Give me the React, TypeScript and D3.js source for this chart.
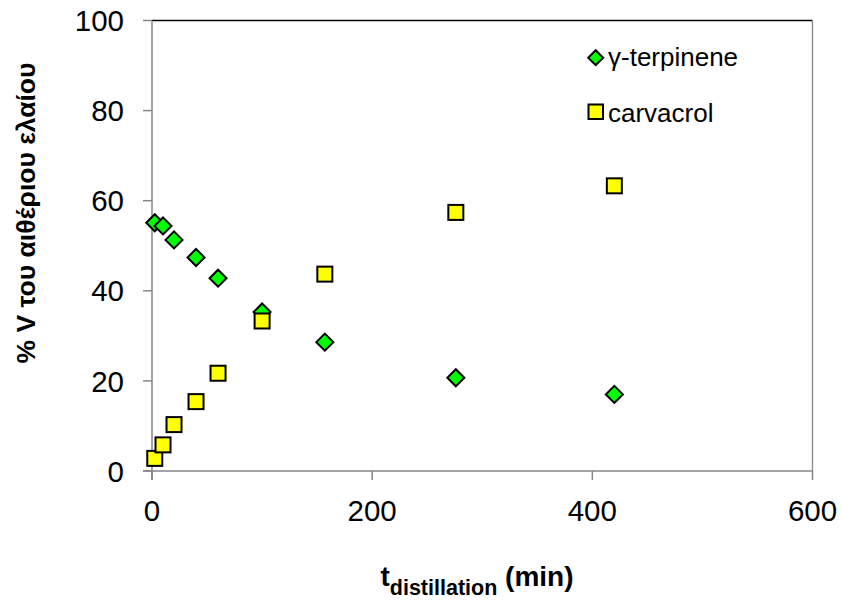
import React from "react";
import * as d3 from "d3";

const tMinutes = [2.5, 10, 20, 40, 60, 100, 157, 276, 420];
const terpinene = [55.1, 54.4, 51.3, 47.4, 42.8, 35.3, 28.6, 20.7, 17.0];
const carvacrol = [2.8, 5.8, 10.3, 15.4, 21.7, 33.3, 43.7, 57.4, 63.3];
const xTicks = [0, 200, 400, 600];
const yTicks = [0, 20, 40, 60, 80, 100];
const seriesNames = ["γ-terpinene", "carvacrol"];

const W = 842;
const H = 603;
const L = 152, R = 812.5, T = 20.5, B = 471;

export default function App() {
  const x = d3.scaleLinear().domain([0, 600]).range([L, R]);
  const y = d3.scaleLinear().domain([0, 100]).range([B, T]);
  const axisColor = "#868686";
  const font = "Arial, 'Liberation Sans', sans-serif";
  const diamond = (cx: number, cy: number, r: number) =>
    `M${cx},${cy - r}L${cx + r},${cy}L${cx},${cy + r}L${cx - r},${cy}Z`;

  return (
    <svg
      width={W}
      height={H}
      style={{ position: "absolute", left: 0, top: 0, background: "#fff" }}
      fontFamily={font}
    >
      {/* plot border */}
      <line x1={L} x2={R} y1={T} y2={T} stroke="#000" strokeWidth={1.3} />
      <line x1={R} x2={R} y1={T} y2={B} stroke={axisColor} strokeWidth={1.3} />
      {/* axes */}
      <line x1={L} x2={L} y1={T} y2={B + 9} stroke={axisColor} strokeWidth={1.5} />
      <line x1={L - 9} x2={R} y1={B} y2={B} stroke={axisColor} strokeWidth={1.5} />
      {yTicks.map((t) => (
        <g key={"y" + t}>
          <line x1={L - 9} x2={L} y1={y(t)} y2={y(t)} stroke={axisColor} strokeWidth={1.5} />
          <text x={124} y={y(t)} dy="0.36em" textAnchor="end" fontSize={29.5} fill="#000">
            {t}
          </text>
        </g>
      ))}
      {xTicks.map((t) => (
        <g key={"x" + t}>
          <line x1={x(t)} x2={x(t)} y1={B} y2={B + 9} stroke={axisColor} strokeWidth={1.5} />
          <text x={x(t)} y={521} textAnchor="middle" fontSize={29.5} fill="#000">
            {t}
          </text>
        </g>
      ))}
      {/* axis titles */}
      <text
        transform={`translate(35,213) rotate(-90)`}
        textAnchor="middle"
        fontSize={26.5}
        fontWeight="bold"
        fill="#000"
      >
        % V του αιθέριου ελαίου
      </text>
      <text x={477} y={586} textAnchor="middle" fontSize={28} fontWeight="bold" fill="#000">
        t
        <tspan fontSize={21.5} dy={9}>distillation</tspan>
        <tspan dy={-9}> (min)</tspan>
      </text>
      {/* series */}
      {tMinutes.map((t, i) => (
        <path
          key={"d" + i}
          d={diamond(x(t), y(terpinene[i]), 8.5)}
          fill="#00FF00"
          stroke="#000"
          strokeWidth={2}
        />
      ))}
      {tMinutes.map((t, i) => (
        <rect
          key={"s" + i}
          x={x(t) - 7.5}
          y={y(carvacrol[i]) - 7.5}
          width={15}
          height={15}
          fill="#FFFF00"
          stroke="#000"
          strokeWidth={2}
        />
      ))}
      {/* legend */}
      <path d={diamond(595.7, 57.7, 7.5)} fill="#00FF00" stroke="#000" strokeWidth={2} />
      <text x={608} y={66} fontSize={26} fill="#000">
        {seriesNames[0]}
      </text>
      <rect x={588.5} y={104.5} width={14.5} height={14.5} fill="#FFFF00" stroke="#000" strokeWidth={2} />
      <text x={608} y={121.5} fontSize={26} fill="#000">
        {seriesNames[1]}
      </text>
    </svg>
  );
}
